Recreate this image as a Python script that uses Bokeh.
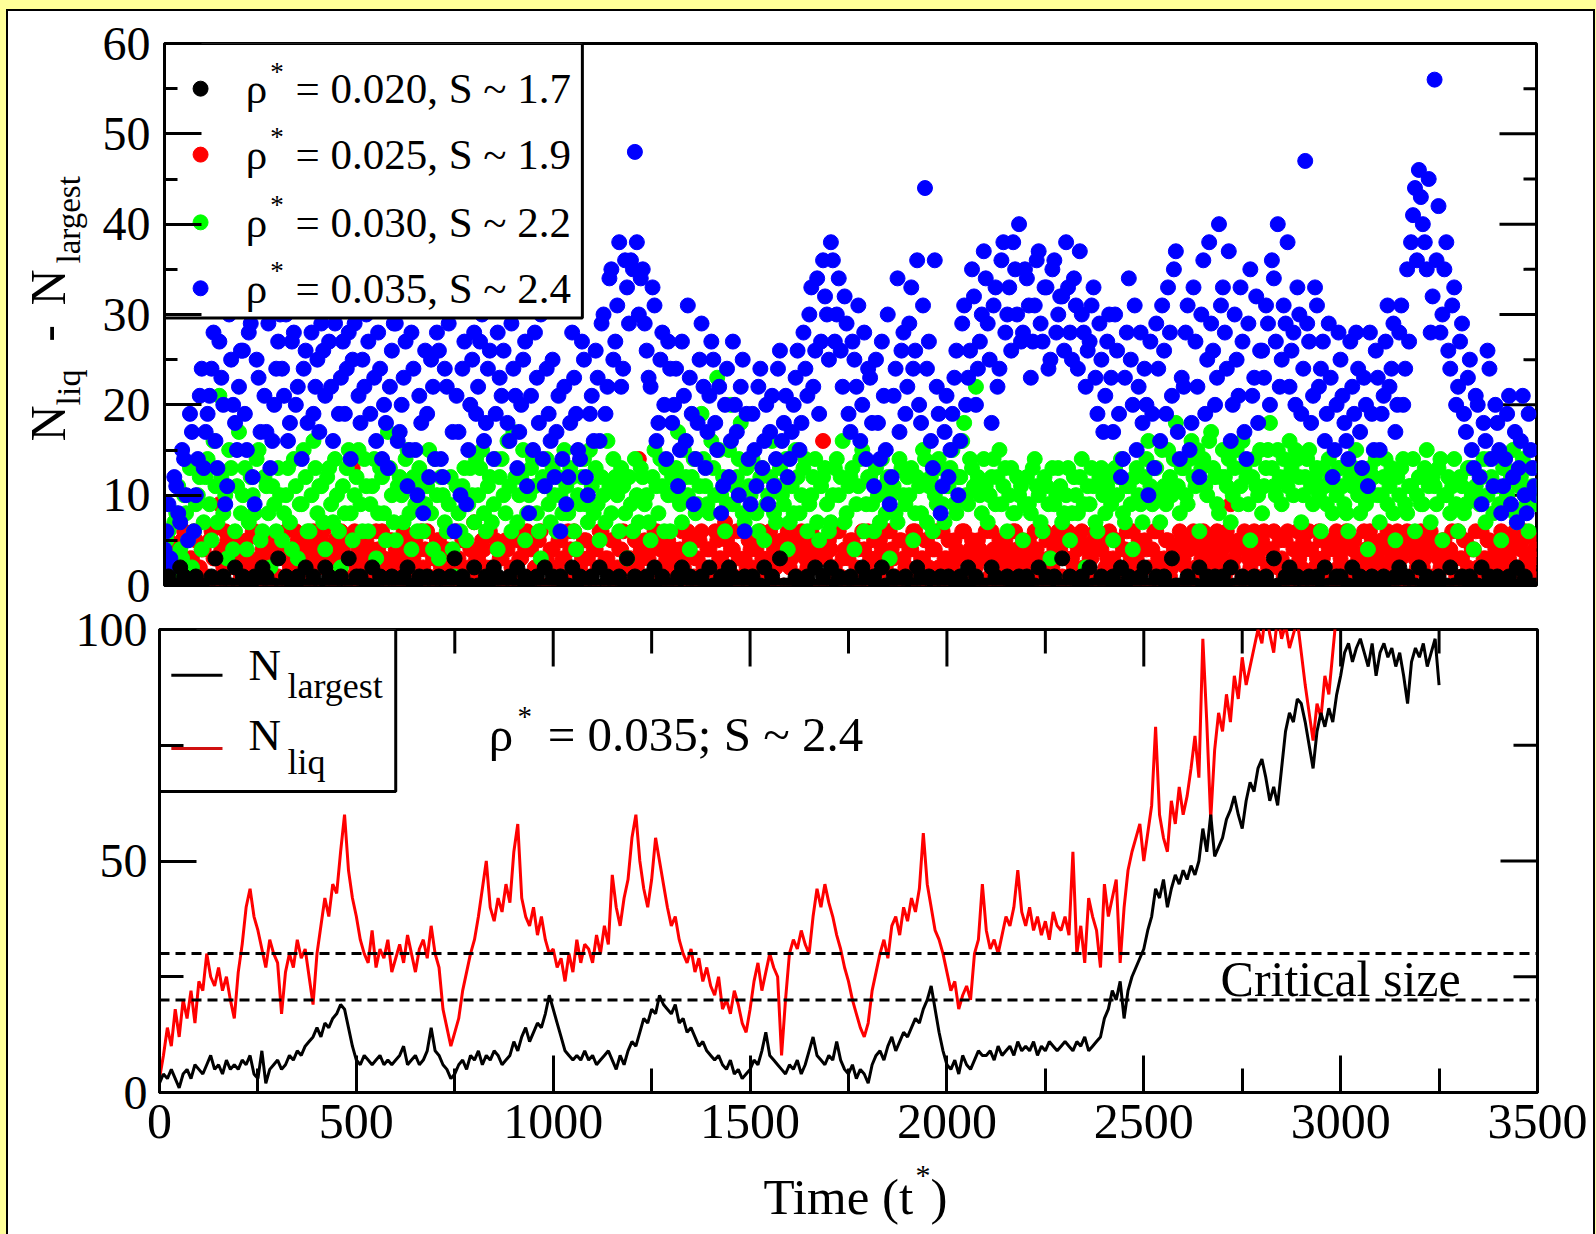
import math
from bokeh.plotting import figure
from bokeh.models import Range1d, SingleIntervalTicker, Label, Span
from bokeh.layouts import column, row
from bokeh.embed import file_html
from bokeh.resources import INLINE

FONT = "Liberation Serif"

# ---------------- data: top panel (N_liq - N_largest) ----------------
# samples at t = 0, 10, 20, ...  ("_a") and t = 5, 15, 25, ... ("_b")
blue_035_a = [
    4, 9, 2, 11, 7, 14, 5, 17, 10, 21, 13, 19, 24, 16, 27, 20, 11, 25, 18, 22,
    26, 15, 29, 9, 23, 31, 17, 13, 20, 27, 24, 30, 18, 28, 22, 14, 26, 31, 19, 25,
    29, 21, 27, 16, 32, 23, 19, 28, 25, 30, 18, 22, 27, 31, 16, 24, 20, 13, 26, 29,
    17, 23, 11, 28, 15, 21, 8, 19, 25, 14, 26, 12, 22, 31, 6, 17, 24, 9, 20, 28,
    22, 30, 18, 26, 14, 28, 21, 33, 16, 24, 13, 20, 27, 8, 15, 23, 30, 11, 19, 25,
    17, 6, 22, 12, 28, 19, 14, 25, 10, 21, 26, 16, 30, 22, 35, 27, 38, 24, 33, 36,
    48, 30, 35, 26, 22, 31, 18, 28, 14, 24, 20, 11, 27, 16, 23, 9, 18, 29, 13, 21,
    25, 15, 8, 20, 12, 27, 17, 22, 6, 14, 19, 11, 24, 16, 9, 21, 14, 26, 18, 12,
    17, 23, 15, 28, 21, 33, 26, 19, 36, 30, 38, 27, 34, 22, 29, 17, 25, 31, 20, 14,
    23, 11, 18, 27, 15, 9, 21, 34, 26, 19, 29, 24, 36, 18, 44, 27, 13, 22, 8, 17,
    12, 19, 26, 16, 31, 23, 35, 20, 27, 37, 29, 18, 33, 24, 38, 30, 26, 35, 40, 28,
    34, 23, 31, 37, 27, 33, 25, 36, 30, 32, 38, 28, 34, 24, 30, 22, 27, 33, 19, 25,
    21, 30, 17, 26, 12, 23, 34, 20, 15, 28, 24, 10, 19, 29, 16, 26, 33, 21, 37, 14,
    22, 31, 18, 27, 12, 36, 25, 29, 20, 40, 33, 24, 16, 30, 21, 27, 14, 35, 23, 18,
    26, 31, 20, 34, 40, 25, 29, 22, 28, 33, 19, 47, 27, 21, 31, 24, 16, 29, 12, 20,
    25, 18, 14, 22, 28, 17, 23, 11, 19, 26, 15, 21, 31, 24, 17, 28, 20, 35, 38, 44,
    46, 40, 35, 28, 56, 42, 30, 38, 24, 33, 22, 29, 17, 25, 13, 20, 9, 16, 24, 11,
    18, 8, 14, 21, 12, 7, 16, 10, 19, 13, 10,
]
blue_035_b = [
    6, 3, 12, 8, 15, 10, 19, 6, 14, 24, 17, 21, 28, 13, 23, 9, 30, 20, 15, 26,
    19, 28, 12, 25, 17, 21, 29, 16, 24, 30, 21, 16, 27, 20, 31, 24, 18, 28, 22, 17,
    26, 31, 22, 29, 19, 27, 24, 14, 29, 21, 25, 30, 19, 23, 28, 14, 18, 22, 29, 16,
    20, 27, 15, 24, 10, 18, 26, 12, 22, 28, 14, 24, 29, 17, 21, 10, 27, 15, 25, 19,
    27, 16, 24, 31, 19, 23, 26, 18, 29, 21, 17, 25, 11, 21, 28, 18, 14, 24, 16, 12,
    21, 14, 9, 18, 23, 15, 27, 12, 19, 16, 23, 29, 19, 34, 25, 31, 22, 36, 29, 35,
    38, 34, 29, 23, 33, 16, 25, 20, 27, 18, 24, 15, 21, 31, 19, 14, 25, 22, 17, 27,
    18, 22, 11, 24, 16, 20, 10, 25, 19, 9, 15, 22, 13, 20, 17, 11, 24, 16, 21, 14,
    20, 26, 18, 24, 30, 22, 34, 27, 32, 25, 36, 30, 26, 32, 19, 27, 22, 16, 28, 24,
    18, 25, 14, 21, 30, 12, 24, 17, 28, 22, 33, 26, 20, 31, 24, 16, 36, 19, 11, 21,
    15, 23, 10, 29, 20, 26, 32, 24, 30, 34, 25, 31, 22, 36, 28, 33, 38, 30, 27, 35,
    31, 27, 36, 29, 33, 24, 35, 28, 32, 26, 33, 25, 31, 37, 28, 26, 31, 23, 29, 17,
    27, 23, 30, 19, 14, 28, 25, 31, 22, 18, 20, 27, 13, 24, 31, 19, 28, 35, 17, 23,
    28, 15, 33, 22, 30, 19, 38, 26, 23, 31, 28, 37, 20, 25, 33, 17, 29, 21, 32, 26,
    23, 29, 36, 27, 22, 31, 38, 26, 20, 30, 24, 29, 18, 33, 22, 27, 19, 23, 15, 28,
    21, 16, 27, 19, 24, 13, 20, 28, 15, 23, 19, 27, 22, 29, 20, 31, 24, 27, 41, 36,
    43, 38, 45, 32, 36, 28, 35, 26, 31, 20, 27, 19, 23, 15, 21, 12, 18, 26, 14, 20,
    15, 11, 19, 9, 17, 13, 21, 8, 15, 11,
]
green_030_a = [
    3, 6, 1, 8, 4, 10, 5, 2, 9, 12, 7, 14, 5, 11, 21, 8, 3, 13, 6, 17,
    10, 4, 12, 8, 15, 6, 11, 2, 9, 13, 5, 10, 7, 14, 3, 9, 12, 6, 16, 8,
    11, 4, 13, 7, 10, 2, 8, 15, 5, 12, 9, 14, 6, 11, 3, 13, 8, 17, 10, 5,
    12, 7, 15, 4, 9, 13, 6, 11, 8, 14, 3, 10, 6, 12, 1, 8, 11, 5, 13, 7,
    10, 15, 6, 12, 9, 4, 14, 8, 11, 17, 7, 12, 5, 10, 14, 8, 3, 11, 9, 13,
    6, 10, 15, 8, 12, 4, 9, 14, 7, 11, 13, 5, 10, 16, 8, 12, 6, 11, 3, 9,
    14, 7, 12, 10, 5, 15, 8, 11, 13, 6, 10, 17, 7, 12, 4, 14, 9, 19, 11, 8,
    13, 23, 10, 6, 15, 9, 12, 18, 7, 11, 14, 8, 12, 5, 10, 16, 7, 13, 9, 4,
    11, 15, 8, 13, 6, 10, 14, 5, 12, 9, 7, 13, 10, 16, 8, 12, 4, 11, 15, 9,
    12, 6, 10, 14, 8, 3, 11, 7, 13, 9, 10, 5, 12, 8, 14, 11, 6, 9, 13, 7,
    11, 15, 8, 12, 18, 9, 13, 22, 10, 14, 7, 12, 9, 15, 11, 6, 13, 8, 10, 5,
    12, 8, 14, 10, 6, 11, 3, 9, 13, 7, 10, 5, 12, 8, 14, 2, 9, 11, 6, 13,
    8, 12, 5, 10, 14, 7, 11, 4, 13, 9, 12, 16, 9, 13, 7, 11, 15, 10, 18, 8,
    13, 9, 16, 11, 6, 14, 10, 17, 12, 8, 15, 11, 7, 13, 9, 16, 12, 5, 14, 10,
    8, 13, 18, 11, 15, 9, 12, 16, 10, 14, 7, 12, 15, 9, 13, 6, 11, 14, 8, 10,
    13, 9, 6, 11, 15, 8, 12, 4, 10, 14, 7, 12, 9, 13, 5, 10, 14, 8, 11, 6,
    12, 9, 15, 7, 11, 13, 5, 10, 8, 14, 6, 11, 9, 13, 4, 10, 12, 7, 14, 8,
    11, 5, 13, 9, 15, 7, 12, 10, 6, 11, 9,
]
green_030_b = [
    5, 2, 7, 11, 3, 8, 13, 6, 10, 4, 12, 9, 16, 7, 12, 10, 15, 4, 11, 8,
    13, 7, 10, 14, 5, 12, 8, 11, 6, 10, 8, 13, 4, 11, 9, 15, 6, 10, 13, 11,
    7, 12, 9, 14, 6, 11, 13, 8, 10, 15, 6, 11, 9, 14, 8, 12, 5, 13, 7, 11,
    10, 14, 8, 12, 6, 11, 9, 15, 4, 10, 12, 7, 9, 4, 11, 6, 13, 9, 10, 14,
    13, 8, 11, 7, 14, 12, 10, 16, 6, 12, 10, 15, 8, 13, 11, 6, 12, 14, 7, 10,
    12, 8, 11, 13, 6, 10, 12, 9, 15, 8, 9, 12, 7, 11, 14, 10, 13, 8, 12, 6,
    10, 13, 9, 7, 12, 11, 14, 6, 10, 12, 13, 9, 15, 10, 12, 8, 11, 14, 9, 16,
    10, 15, 12, 9, 20, 11, 14, 8, 13, 10, 11, 6, 13, 9, 12, 8, 11, 10, 14, 7,
    8, 12, 10, 14, 9, 12, 7, 11, 13, 6, 10, 14, 12, 7, 11, 13, 9, 14, 6, 12,
    9, 13, 7, 11, 12, 10, 8, 14, 10, 12, 13, 8, 11, 15, 7, 12, 10, 14, 9, 11,
    13, 9, 12, 16, 10, 14, 11, 12, 8, 11, 10, 14, 12, 9, 13, 10, 8, 12, 11, 9,
    9, 13, 11, 7, 12, 9, 13, 10, 11, 8, 13, 8, 10, 12, 9, 11, 13, 7, 12, 10,
    11, 9, 13, 12, 8, 11, 9, 12, 10, 7, 14, 11, 13, 10, 15, 9, 12, 14, 11, 13,
    10, 14, 12, 15, 13, 11, 16, 13, 9, 12, 12, 14, 10, 15, 11, 13, 9, 12, 11, 15,
    11, 15, 13, 10, 12, 14, 11, 13, 15, 12, 10, 14, 11, 12, 10, 13, 9, 12, 11, 13,
    11, 8, 12, 13, 10, 11, 9, 13, 12, 10, 10, 14, 11, 8, 12, 13, 9, 11, 14, 10,
    9, 13, 11, 12, 9, 14, 10, 12, 11, 9, 12, 8, 13, 10, 11, 9, 14, 10, 12, 11,
    9, 13, 10, 12, 8, 11, 14, 9, 13, 10,
]
red_025_a = [
    2, 5, 1, 4, 3, 6, 0, 3, 5, 2, 4, 1, 6, 3, 9, 2, 5, 0, 4, 3,
    1, 5, 3, 6, 2, 4, 0, 5, 3, 1, 4, 6, 2, 3, 5, 1, 4, 2, 6, 3,
    5, 2, 4, 0, 3, 6, 1, 5, 13, 2, 3, 5, 1, 4, 6, 2, 3, 0, 5, 4,
    2, 6, 3, 1, 5, 4, 2, 6, 0, 3, 5, 1, 4, 6, 2, 3, 5, 1, 4, 7,
    3, 5, 2, 6, 1, 4, 3, 5, 0, 2, 6, 3, 4, 1, 5, 2, 6, 3, 0, 4,
    2, 5, 3, 6, 1, 4, 2, 5, 3, 0, 4, 6, 2, 3, 5, 1, 4, 6, 2, 3,
    5, 14, 3, 1, 4, 6, 2, 5, 3, 0, 4, 2, 6, 3, 5, 1, 3, 6, 2, 4,
    1, 5, 3, 7, 2, 4, 6, 0, 3, 5, 2, 4, 6, 1, 3, 5, 2, 4, 0, 6,
    3, 5, 1, 4, 2, 6, 3, 5, 16, 1, 4, 2, 6, 3, 0, 5, 1, 4, 6, 2,
    3, 5, 1, 4, 2, 6, 3, 0, 5, 2, 4, 6, 1, 3, 5, 2, 4, 6, 0, 3,
    5, 2, 4, 1, 6, 3, 5, 2, 4, 0, 3, 6, 2, 5, 1, 4, 3, 6, 2, 5,
    1, 4, 6, 3, 0, 5, 2, 4, 6, 1, 3, 5, 2, 4, 6, 1, 3, 5, 0, 4,
    2, 6, 3, 5, 1, 4, 2, 6, 3, 0, 5, 2, 4, 6, 1, 3, 5, 2, 4, 6,
    3, 0, 5, 2, 4, 6, 1, 3, 5, 2, 4, 6, 9, 3, 5, 1, 4, 2, 6, 3,
    5, 1, 4, 6, 2, 3, 5, 0, 4, 6, 2, 4, 6, 1, 3, 5, 2, 4, 0, 6,
    3, 5, 1, 4, 11, 2, 6, 3, 5, 1, 4, 2, 6, 3, 5, 0, 4, 6, 1, 3,
    5, 2, 4, 6, 1, 3, 5, 2, 4, 0, 6, 3, 5, 1, 4, 2, 6, 3, 5, 1,
    4, 6, 2, 3, 5, 1, 4, 6, 2, 3, 5,
]
red_025_b = [
    3, 1, 4, 2, 5, 0, 3, 6, 2, 4, 1, 5, 3, 0, 4, 6, 2, 3, 5, 1,
    4, 2, 6, 1, 3, 5, 2, 4, 0, 5, 3, 1, 4, 6, 2, 3, 5, 0, 4, 2,
    6, 3, 1, 5, 2, 4, 3, 0, 6, 4, 2, 5, 3, 1, 4, 6, 2, 5, 3, 0,
    4, 1, 5, 3, 2, 6, 4, 1, 3, 5, 2, 4, 0, 3, 6, 1, 5, 2, 4, 3,
    1, 4, 6, 2, 5, 3, 0, 4, 2, 5, 3, 1, 6, 4, 2, 5, 0, 3, 4, 2,
    5, 3, 1, 4, 6, 2, 3, 5, 1, 4, 2, 6, 3, 0, 5, 2, 4, 1, 3, 6,
    2, 4, 5, 3, 1, 6, 4, 2, 5, 3, 1, 4, 2, 6, 0, 3, 5, 2, 4, 1,
    6, 3, 2, 5, 4, 1, 3, 6, 2, 4, 5, 1, 3, 2, 6, 4, 0, 5, 3, 2,
    4, 1, 6, 3, 5, 2, 4, 0, 3, 5, 2, 6, 1, 4, 3, 5, 2, 0, 4, 6,
    1, 3, 5, 2, 6, 4, 1, 5, 3, 2, 4, 6, 0, 3, 5, 1, 4, 2, 6, 3,
    2, 5, 3, 6, 1, 4, 2, 5, 3, 6, 1, 4, 0, 3, 5, 2, 6, 4, 1, 3,
    5, 2, 4, 1, 6, 3, 2, 5, 4, 0, 6, 3, 1, 5, 2, 4, 3, 6, 1, 5,
    3, 1, 5, 2, 4, 6, 3, 1, 5, 2, 4, 0, 6, 3, 2, 5, 1, 4, 3, 5,
    2, 4, 6, 1, 3, 5, 2, 4, 6, 3, 1, 5, 2, 4, 0, 6, 3, 5, 1, 4,
    6, 2, 4, 3, 5, 1, 6, 2, 4, 3, 5, 0, 4, 2, 6, 3, 1, 5, 4, 2,
    4, 6, 2, 5, 3, 1, 4, 6, 2, 3, 5, 1, 4, 2, 6, 3, 5, 0, 4, 2,
    6, 3, 5, 1, 4, 2, 5, 3, 6, 1, 3, 5, 2, 4, 6, 1, 3, 5, 2, 4,
    3, 5, 1, 4, 6, 2, 5, 3, 1, 4,
]
black_020 = [
    0, 1, 0, 0, 2, 1, 0, 0, 1, 0, 0, 0, 1, 3, 0, 1, 0, 0, 2, 0,
    1, 0, 0, 1, 0, 2, 1, 0, 0, 3, 0, 1, 0, 0, 1, 0, 2, 0, 1, 0,
    0, 2, 1, 0, 0, 1, 0, 3, 0, 1, 1, 0, 0, 2, 0, 1, 0, 0, 1, 0,
    0, 1, 2, 0, 0, 1, 0, 1, 0, 0, 1, 0, 0, 1, 3, 0, 1, 0, 0, 2,
    0, 0, 1, 0, 2, 1, 0, 0, 1, 0, 2, 0, 1, 0, 0, 1, 0, 2, 0, 1,
    0, 1, 0, 0, 2, 0, 1, 0, 0, 1, 0, 2, 0, 1, 0, 0, 1, 0, 3, 0,
    1, 0, 0, 1, 0, 2, 0, 1, 0, 0, 0, 1, 2, 0, 1, 0, 0, 1, 0, 2,
    0, 0, 1, 0, 2, 1, 0, 0, 1, 0, 1, 0, 0, 2, 0, 1, 0, 3, 0, 0,
    0, 1, 0, 0, 1, 0, 2, 0, 1, 0, 2, 0, 1, 0, 0, 1, 0, 0, 2, 1,
    0, 1, 0, 2, 0, 0, 1, 0, 0, 1, 0, 0, 2, 1, 0, 1, 0, 0, 1, 0,
    1, 0, 0, 1, 0, 2, 0, 1, 0, 0, 0, 2, 1, 0, 0, 1, 0, 0, 1, 0,
    1, 0, 0, 2, 0, 1, 0, 1, 0, 3, 0, 1, 0, 0, 1, 0, 2, 0, 0, 1,
    0, 0, 1, 0, 2, 0, 1, 0, 0, 1, 2, 0, 0, 1, 0, 1, 0, 3, 0, 0,
    0, 1, 0, 0, 2, 0, 1, 0, 1, 0, 1, 0, 2, 0, 0, 1, 0, 0, 1, 0,
    0, 1, 0, 3, 0, 0, 1, 2, 0, 1, 0, 0, 1, 0, 1, 0, 2, 0, 0, 1,
    1, 0, 0, 2, 0, 1, 0, 0, 1, 0, 0, 1, 0, 0, 1, 2, 0, 1, 0, 0,
    2, 0, 1, 0, 0, 1, 0, 0, 2, 0, 0, 1, 0, 1, 0, 0, 2, 0, 1, 0,
    1, 0, 0, 1, 0, 2, 0, 1, 0, 0, 0,
]

# ---------------- data: bottom panel (rho* = 0.035), every 10 time units ----------------
n_largest = [
    2, 4, 3, 5, 3, 1, 4, 5, 3, 6, 5, 4, 6, 8, 5, 6, 4, 7, 5, 6,
    5, 7, 6, 8, 4, 3, 9, 2, 5, 6, 7, 5, 6, 8, 7, 9, 8, 10, 11, 12,
    14, 12, 15, 14, 16, 17, 19, 18, 14, 10, 7, 6, 8, 7, 6, 7, 8, 6, 7, 6,
    7, 8, 10, 6, 7, 8, 6, 7, 9, 14, 9, 8, 6, 5, 3, 4, 6, 7, 5, 8,
    7, 9, 6, 8, 7, 9, 8, 6, 7, 8, 11, 9, 12, 14, 11, 13, 15, 14, 17, 21,
    18, 15, 12, 9, 8, 7, 8, 7, 9, 7, 8, 6, 7, 8, 9, 7, 5, 8, 6, 9,
    11, 10, 13, 16, 15, 18, 17, 21, 19, 18, 17, 19, 15, 16, 13, 14, 12, 10, 11, 9,
    8, 7, 8, 6, 5, 7, 4, 5, 3, 4, 5, 7, 6, 9, 13, 8, 7, 6, 5, 4,
    6, 5, 7, 4, 6, 9, 12, 8, 7, 6, 8, 7, 11, 7, 5, 4, 6, 3, 5, 4,
    2, 6, 8, 9, 7, 10, 12, 9, 11, 13, 12, 14, 16, 15, 18, 20, 23, 18, 13, 9,
    6, 5, 7, 4, 8, 6, 5, 7, 9, 8, 8, 9, 7, 10, 8, 9, 10, 8, 11, 9,
    10, 9, 11, 8, 10, 9, 11, 10, 9, 10, 11, 10, 9, 11, 10, 12, 9, 10, 11, 12,
    16, 18, 22, 20, 24, 16, 22, 25, 27, 29, 31, 35, 38, 44, 42, 46, 40, 44, 47, 45,
    48, 46, 49, 47, 50, 57, 52, 60, 51, 53, 55, 59, 61, 64, 60, 57, 63, 67, 65, 70,
    72, 68, 63, 66, 62, 70, 78, 82, 80, 85, 84, 80, 75, 70, 78, 82, 79, 83, 80, 86,
    90, 95, 97, 93, 96, 98, 95, 92, 97, 90, 95, 97, 94, 96, 92, 95, 90, 84, 93, 96,
    94, 97, 92, 95, 98, 88,
]
n_liq = [
    3, 8, 14, 10, 18, 12, 20, 16, 22, 15, 24, 22, 30, 25, 23, 27, 22, 25, 20, 16,
    26, 32, 40, 44, 38, 35, 31, 27, 33, 30, 28, 17, 26, 30, 27, 33, 29, 31, 25, 19,
    30, 36, 42, 38, 45, 43, 52, 60, 48, 42, 38, 33, 30, 28, 35, 27, 31, 29, 33, 26,
    29, 32, 28, 34, 30, 26, 31, 33, 29, 36, 30, 27, 18, 14, 10, 13, 16, 22, 26, 30,
    33, 38, 44, 50, 40, 37, 42, 39, 45, 41, 52, 58, 42, 38, 36, 40, 34, 38, 33, 30,
    31, 27, 29, 24, 30, 26, 33, 28, 32, 31, 28, 34, 30, 36, 32, 47, 40, 36, 42, 46,
    55, 60, 50, 44, 40, 46, 55, 50, 45, 40, 36, 38, 33, 30, 28, 31, 26, 29, 24, 27,
    23, 21, 25, 18, 20, 17, 22, 19, 15, 13, 18, 24, 28, 22, 26, 30, 27, 25, 8, 20,
    30, 33, 31, 35, 32, 30, 38, 44, 40, 45, 41, 38, 34, 31, 27, 24, 20, 17, 14, 12,
    15, 22, 26, 30, 33, 29, 36, 38, 34, 40, 37, 42, 39, 44, 56, 45, 40, 35, 33, 30,
    26, 22, 24, 18, 21, 23, 20, 30, 33, 45, 35, 31, 33, 30, 34, 38, 36, 40, 48, 39,
    36, 40, 35, 38, 34, 37, 33, 39, 36, 35, 38, 34, 52, 30, 36, 28, 42, 38, 35, 27,
    45, 38, 42, 46, 28, 40, 48, 52, 55, 58, 50, 56, 62, 79, 60, 55, 52, 63, 58, 66,
    60, 64, 70, 77, 68, 98, 80, 59, 74, 82, 78, 86, 80, 90, 85, 94, 88, 92, 96, 100,
    97, 104, 99, 95, 103, 98, 101, 96, 99, 102, 95, 88, 82, 76, 84, 81, 90, 86, 95, 104,
    108,
]
critical_sizes = [20, 30]

legend_top = ["= 0.020, S ~ 1.7", "= 0.025, S ~ 1.9", "= 0.030, S ~ 2.2", "= 0.035, S ~ 2.4"]
legend_colors = ["#000000", "#FF0000", "#00FF00", "#0000FF"]
top_y_ticks = list(range(0, 61, 5))          # 10 major, 5 minor
bot_y_ticks = list(range(0, 101, 25))        # 50 major, 25 minor
x_ticks = list(range(0, 3501, 250))          # 500 major, 250 minor


def times(vals, step, offset=0):
    return [offset + i * step for i in range(len(vals))]


def style_axis(ax, major, minor, size, standoff):
    ax.axis_line_width = 3
    ax.axis_line_color = "black"
    ax.major_tick_line_width = 3
    ax.minor_tick_line_width = 3
    ax.major_tick_in = major
    ax.major_tick_out = 0
    ax.minor_tick_in = minor
    ax.minor_tick_out = 0
    ax.major_label_text_font = FONT
    ax.major_label_text_color = "black"
    ax.major_label_text_font_size = f"{size}px"
    ax.major_label_standoff = standoff


def txt(p, x, y, s, size, angle=0.0, align="left", baseline="middle"):
    p.add_layout(Label(x=x, y=y, text=s, text_font=FONT, text_font_size=f"{size}px",
                       text_color="black", text_align=align, text_baseline=baseline,
                       angle=angle))


def text_canvas(w, h, xr, yr, borders, **kw):
    l, r, t, b = borders
    f = figure(width=w, height=h, x_range=Range1d(*xr), y_range=Range1d(*yr),
               x_axis_location=None, y_axis_location=None, toolbar_location=None,
               output_backend="svg", min_border_left=l, min_border_right=r,
               min_border_top=t, min_border_bottom=b, outline_line_color=None, **kw)
    f.grid.visible = False
    return f

# ---------------- top figure ----------------
TOP_W, TOP_FRAME_W = 1495, 1372
top = figure(width=TOP_W, height=610, x_range=Range1d(0, 3500), y_range=Range1d(0, 60),
             x_axis_location=None, y_axis_location="left",
             toolbar_location=None, output_backend="svg",
             min_border_left=66, min_border_right=57, min_border_top=32, min_border_bottom=36,
             background_fill_color="white", border_fill_color="white",
             outline_line_color="black", outline_line_width=3)
top.xgrid.visible = False
top.ygrid.visible = False
top.yaxis.ticker = SingleIntervalTicker(interval=10, num_minor_ticks=2)
style_axis(top.yaxis[0], 37, 13, 48, 14)

# mirrored ticks on the right edge
px_x_top = 3500 / TOP_FRAME_W
top.segment(x0=[3500 - (37 if v % 10 == 0 else 13) * px_x_top for v in top_y_ticks],
            x1=[3500] * len(top_y_ticks), y0=top_y_ticks, y1=top_y_ticks,
            line_color="black", line_width=3)

series = [(red_025_a, red_025_b, "#FF0000"), (green_030_a, green_030_b, "#00FF00"),
          (blue_035_a, blue_035_b, "#0000FF"), (black_020, None, "#000000")]
for a, b, col in series:
    top.scatter(times(a, 10), a, marker="circle", size=15, fill_color=col, line_color=col)
    if b is not None:
        top.scatter(times(b, 10, 5), b, marker="circle", size=15, fill_color=col, line_color=col)

# legend (top)
top.quad(left=[0], right=[1066], bottom=[29.6], top=[60], fill_color="white",
         line_color="black", line_width=3)
row_y = [55.0, 47.7, 40.2, 32.9]
top.scatter([92] * 4, row_y, marker="circle", size=15, fill_color=legend_colors,
            line_color=legend_colors)
for i in range(4):
    txt(top, 207, row_y[i], "ρ", 43)
    txt(top, 270, row_y[i] + 1.9, "*", 27)
    txt(top, 334, row_y[i], legend_top[i], 43)

# y title of the top panel, on its own canvas (frame aligned with the top panel's frame;
# its data units are pixels: x from the canvas left, y = 610 - pixels from the canvas top)
ytitle = text_canvas(90, 610, (0, 90), (36, 578), (0, 0, 32, 36),
                     background_fill_color="white", border_fill_color="white")
ang = math.pi / 2
txt(ytitle, 39, 180, "N", 50, angle=ang)
txt(ytitle, 60, 216, "liq", 34, angle=ang)
txt(ytitle, 39, 288, "-", 50, angle=ang, align="center")
txt(ytitle, 39, 316, "N", 50, angle=ang)
txt(ytitle, 60, 358, "largest", 33, angle=ang)

# ---------------- bottom figure ----------------
BOT_FRAME_W = 1378
bot = figure(width=1585, height=563, x_range=Range1d(0, 3500), y_range=Range1d(0, 100),
             toolbar_location=None, output_backend="svg",
             min_border_left=151, min_border_right=56, min_border_top=29, min_border_bottom=71,
             background_fill_color="white", border_fill_color=None,
             outline_line_color="black", outline_line_width=3,
             styles={"margin-top": "-21px"})
bot.xgrid.visible = False
bot.ygrid.visible = False
bot.xaxis.ticker = SingleIntervalTicker(interval=500, num_minor_ticks=2)
bot.yaxis.ticker = SingleIntervalTicker(interval=50, num_minor_ticks=2)
style_axis(bot.xaxis[0], 37, 24, 50, 12)
style_axis(bot.yaxis[0], 37, 24, 48, 12)

px_y_bot = 100 / 463
px_x_bot = 3500 / BOT_FRAME_W
bot.segment(x0=x_ticks, x1=x_ticks, y0=[100] * len(x_ticks),
            y1=[100 - (37 if v % 500 == 0 else 24) * px_y_bot for v in x_ticks],
            line_color="black", line_width=3)
bot.segment(x0=[3500 - (37 if v % 50 == 0 else 24) * px_x_bot for v in bot_y_ticks],
            x1=[3500] * len(bot_y_ticks), y0=bot_y_ticks, y1=bot_y_ticks,
            line_color="black", line_width=3)

for lvl in critical_sizes:
    bot.add_layout(Span(location=lvl, dimension="width", line_color="black",
                        line_width=3, line_dash="10 6"))

bot.line(times(n_liq, 10), n_liq, line_color="#FF0000", line_width=3)
bot.line(times(n_largest, 10), n_largest, line_color="black", line_width=3)

# legend (bottom)
bot.quad(left=[0], right=[600], bottom=[65], top=[100], fill_color="white",
         line_color="black", line_width=3)
bot.line([30, 160], [90.1, 90.1], line_color="black", line_width=3)
bot.line([30, 160], [74.3, 74.3], line_color="#D01010", line_width=3)
txt(bot, 226, 92.3, "N", 45)
txt(bot, 325, 87.9, "largest", 36)
txt(bot, 226, 77.3, "N", 45)
txt(bot, 325, 71.3, "liq", 36)

# annotations
txt(bot, 836, 77.3, "ρ", 49)
txt(bot, 909, 81.4, "*", 29)
txt(bot, 986, 77.3, "= 0.035; S ~ 2.4", 49)
txt(bot, 3000, 24.6, "Critical size", 50, align="center")

# x title on its own canvas (frame aligned with the bottom panel's frame; data units = pixels)
xtitle = text_canvas(1585, 84, (151, 1529), (0, 84), (151, 56, 0, 0),
                     background_fill_color=None, border_fill_color=None,
                     styles={"margin-top": "-13px"})
txt(xtitle, 755, 38, "Time (t", 51)
txt(xtitle, 907, 60, "*", 30)
txt(xtitle, 922, 38, ")", 51)

inner = column(row(ytitle, top), bot, xtitle,
               styles={"background-color": "white", "border": "2px solid black"})
page = column(inner, styles={"background-color": "#FFFF99", "padding": "9px 1px 0px 6px"})

open("out.html", "w").write(file_html(page, INLINE))
